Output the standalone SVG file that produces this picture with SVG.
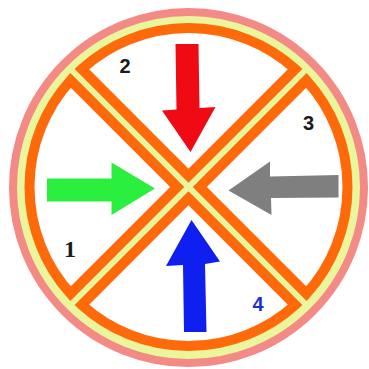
<svg xmlns="http://www.w3.org/2000/svg" width="369" height="369" viewBox="0 0 369 369">
  <style>
    .sector { fill: #ffffff; stroke: #fe6a0a; stroke-width: 10; stroke-linejoin: miter; }
    .lbl { font-family: "Liberation Sans", Arial, sans-serif; font-weight: bold; font-size: 20px; fill: #1a1a1a; text-anchor: middle; }
  </style>
  <rect width="369" height="369" fill="#ffffff"/>
  <g id="rim">
    <circle cx="188.5" cy="187.5" r="175.5" fill="#eaf59c" stroke="#f48a86" stroke-width="8"/>
  </g>
  <g id="sector-1">
    <path class="sector" d="M177.19,187 L70.56,293.63 A159,159 0 0 1 70.56,80.37 Z"/>
    <text class="lbl" x="70" y="257" style="font-family:'Liberation Serif','Times New Roman',serif;font-size:24px">1</text>
  </g>
  <g id="sector-2">
    <path class="sector" d="M188.5,175.69 L81.87,69.06 A159,159 0 0 1 295.13,69.06 Z"/>
    <text class="lbl" x="125" y="73">2</text>
  </g>
  <g id="sector-3">
    <path class="sector" d="M199.81,187 L306.44,80.37 A159,159 0 0 1 306.44,293.63 Z"/>
    <text class="lbl" x="308.5" y="130">3</text>
  </g>
  <g id="sector-4">
    <path class="sector" d="M188.5,198.31 L295.13,304.94 A159,159 0 0 1 81.87,304.94 Z"/>
    <text class="lbl" x="258" y="311" style="fill:#1f2fd6;font-size:20px">4</text>
  </g>
  <g id="connectors">
    <polygon id="arrow-red" fill="#f00a14" points="175.5,44 198.5,44 199.5,108 215.5,107 190.5,152 162,110.5 176.5,109.5"/>
    <polygon id="arrow-green" fill="#2bef3e" points="47,178.5 111.5,178.5 111.5,162.5 155,188.5 111.5,215 111.5,201.5 47,201.5"/>
    <polygon id="arrow-gray" fill="#7f7f7f" points="338.5,175 270,176.5 270,161.5 228.5,190.5 271.5,215 271,198 338.5,197.5"/>
    <polygon id="arrow-blue" fill="#0f1ff0" points="184,332 206.5,332 205,264 220,261.5 191.5,220 166,266 183,265"/>
  </g>
</svg>
